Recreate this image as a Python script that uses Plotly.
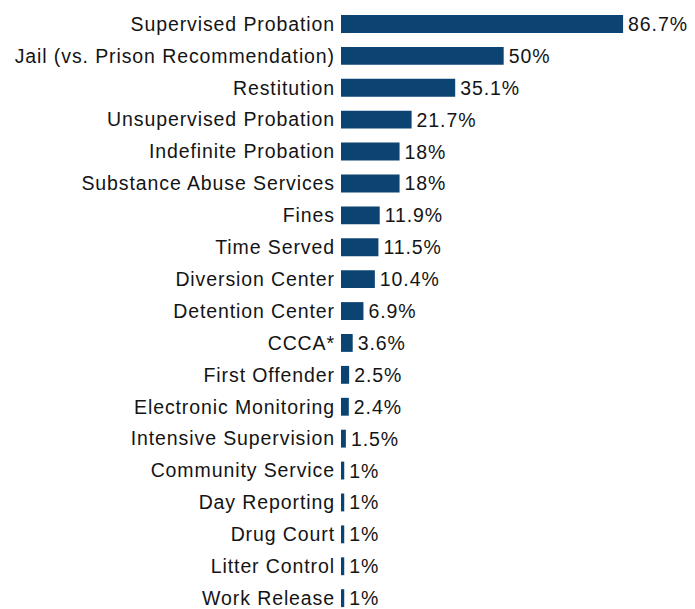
import plotly.graph_objects as go

# Sentencing outcomes, top to bottom
categories = [
    "Supervised Probation",
    "Jail (vs. Prison Recommendation)",
    "Restitution",
    "Unsupervised Probation",
    "Indefinite Probation",
    "Substance Abuse Services",
    "Fines",
    "Time Served",
    "Diversion Center",
    "Detention Center",
    "CCCA*",
    "First Offender",
    "Electronic Monitoring",
    "Intensive Supervision",
    "Community Service",
    "Day Reporting",
    "Drug Court",
    "Litter Control",
    "Work Release",
]
percentages = [86.7, 50, 35.1, 21.7, 18, 18, 11.9, 11.5, 10.4, 6.9, 3.6,
               2.5, 2.4, 1.5, 1, 1, 1, 1, 1]
value_labels = ["86.7%", "50%", "35.1%", "21.7%", "18%", "18%", "11.9%",
                "11.5%", "10.4%", "6.9%", "3.6%", "2.5%", "2.4%", "1.5%",
                "1%", "1%", "1%", "1%", "1%"]

BAR_COLOR = "#0b4473"
TEXT_COLOR = "#141414"
FONT = "Liberation Sans, Arial, sans-serif"
FONT_SIZE = 19.5

fig = go.Figure(
    go.Bar(
        x=percentages,
        y=categories,
        orientation="h",
        width=0.56,
        marker=dict(color=BAR_COLOR, line=dict(width=0)),
        text=value_labels,
        textposition="outside",
        constraintext="none",
        textfont=dict(size=FONT_SIZE, color=TEXT_COLOR, family=FONT),
        cliponaxis=False,
    )
)

fig.update_layout(
    width=695,
    height=609,
    margin=dict(l=341, r=0, t=8, b=0),
    paper_bgcolor="white",
    plot_bgcolor="white",
    showlegend=False,
    font=dict(family=FONT, size=FONT_SIZE, color=TEXT_COLOR),
    xaxis=dict(
        range=[0, 108.8],
        visible=False,
        showgrid=False,
        zeroline=False,
    ),
    yaxis=dict(
        type="category",
        categoryorder="array",
        categoryarray=categories,
        range=[18.34, -0.5],
        showgrid=False,
        zeroline=False,
        showline=False,
        ticks="",
        ticklabelstandoff=5,
        tickfont=dict(size=FONT_SIZE, color=TEXT_COLOR, family=FONT),
    ),
)

# Slightly open letter spacing on all chart text; bar values are centred
# on their anchor, so nudge them right to keep a small gap after each bar.
letter_spacing_js = """
var gd = document.getElementById('{plot_id}');
var SPACING = 0.9;
function spaceText() {
  gd.querySelectorAll('.ytick text').forEach(function (t) {
    t.style.letterSpacing = SPACING + 'px';
  });
  gd.querySelectorAll('.bartext').forEach(function (t) {
    t.style.letterSpacing = SPACING + 'px';
    var n = t.textContent.length;
    t.setAttribute('dx', (n * SPACING / 2 + 2).toFixed(2));
  });
}
spaceText();
gd.on('plotly_afterplot', spaceText);
"""

fig.write_html("out.html", post_script=letter_spacing_js)
